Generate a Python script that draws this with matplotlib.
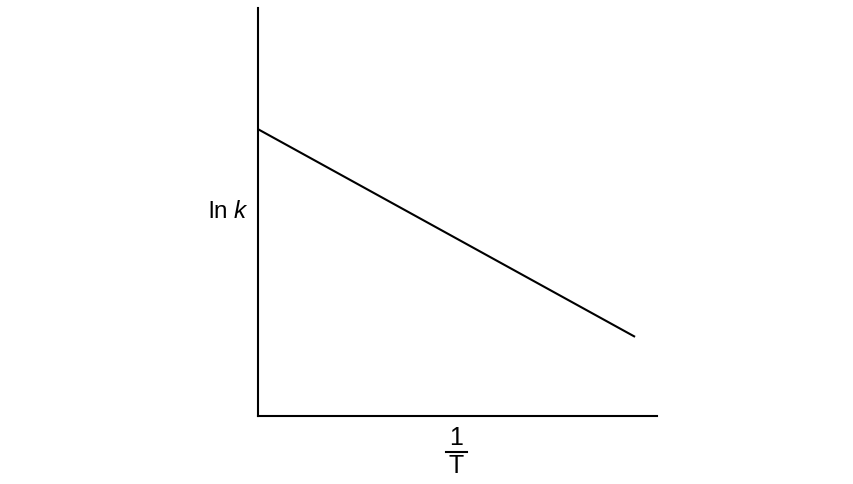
import matplotlib
matplotlib.use("Agg")
import matplotlib.pyplot as plt
from matplotlib.lines import Line2D

plt.rcParams['font.family'] = ['Liberation Sans', 'DejaVu Sans']
plt.rcParams['mathtext.fontset'] = 'custom'
plt.rcParams['mathtext.rm'] = 'Liberation Sans'
plt.rcParams['mathtext.it'] = 'Liberation Sans:italic'
plt.rcParams['mathtext.bf'] = 'Liberation Sans:bold'

# Data (arbitrary units, schematic Arrhenius plot)
inv_T = [0.0, 0.945]
ln_k = [0.703, 0.194]
x_num = '1'
x_den = 'T'
y_label = r'ln $k$'

W, H = 854, 484
fig = plt.figure(figsize=(8.54, 4.84), dpi=100)
ax = fig.add_axes([258/W, 1 - 416/H, (657-258)/W, (416-8)/H])
ax.plot(inv_T, ln_k, color='black', lw=1.5, solid_capstyle='butt')
ax.set_xlim(0, 1)
ax.set_ylim(0, 1)
for s in ['top', 'right']:
    ax.spines[s].set_visible(False)
for s in ['left', 'bottom']:
    ax.spines[s].set_linewidth(1.5)
ax.set_xticks([])
ax.set_yticks([])

fig.text(249/W, 1 - 212/H, y_label, ha='right', va='center', fontsize=17.5)

# fraction 1/T
fig.text(456/W, 1 - 438/H, x_num, ha='center', va='center', fontsize=18)
fig.text(456/W, 1 - 466/H, x_den, ha='center', va='center', fontsize=18)
fig.add_artist(Line2D([446/W, 467/W], [1 - 452/H, 1 - 452/H], color='black', lw=1.5,
                      transform=fig.transFigure))

fig.savefig('out.png', dpi=100)
